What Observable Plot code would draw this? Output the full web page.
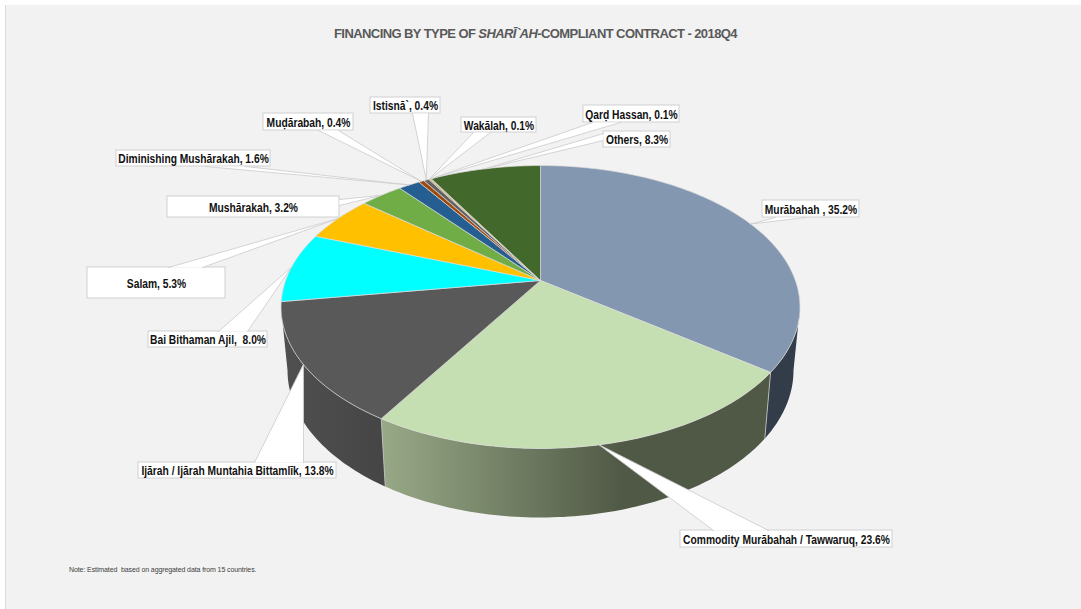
<!DOCTYPE html>
<html>
<head>
<meta charset="utf-8">
<script src="https://cdn.jsdelivr.net/npm/d3@7"></script>
<script src="https://cdn.jsdelivr.net/npm/@observablehq/plot@0.6"></script>
<style>
  html, body { margin: 0; padding: 0; background: #fff; width: 1081px; height: 609px; overflow: hidden; }
  #panel { position: absolute; left: 5px; top: 5px; width: 1076px; height: 604px; background: #f2f2f2;
           border-left: 1px solid #dcdcdc; box-sizing: border-box; overflow: hidden; font-family: "Liberation Sans", Arial, sans-serif; }
  #title { height: 45px; box-sizing: border-box; padding-top: 21px; padding-left: 328px; white-space: nowrap;
           font-size: 13px; font-weight: bold; color: #595959; letter-spacing: -0.58px; line-height: 15px; }
  #chart svg { display: block; background: transparent; }
  #note { position: absolute; left: 63px; top: 561px; font-size: 7px; color: #404040; white-space: nowrap; letter-spacing: -0.1px; }
</style>
</head>
<body>
<div id="panel">
  <div id="title">FINANCING BY TYPE OF <i>SHARĪ`AH</i>-COMPLIANT CONTRACT - 2018Q4</div>
  <div id="chart"></div>
  <div id="note">Note: Estimated&nbsp; based on aggregated data from 15 countries.</div>
</div>
<script>
// Financing shares by contract type, percent, clockwise from twelve o'clock.
const contracts = ["Murābahah ", "Commodity Murābahah / Tawwaruq", "Ijārah / Ijārah Muntahia Bittamlīk",
  "Bai Bithaman Ajil, ", "Salam", "Mushārakah", "Diminishing Mushārakah", "Muḍārabah", "Istisnā`",
  "Wakālah", "Qarḍ Hassan", "Others"];
const shares = [35.2, 23.6, 13.8, 8.0, 5.3, 3.2, 1.6, 0.4, 0.4, 0.1, 0.1, 8.3];
const topColors = ["#8497b0", "#c5deb2", "#595959", "#00ffff", "#ffc000", "#70ad47", "#255e91",
  "#9e480e", "#636363", "#997300", "#c9b27c", "#43682b"];

// Side walls that face the viewer, by contract index.
const wallFills = new Map([[0, "#333c49"], [1, "url(#commodityWall)"], [2, "url(#ijarahWall)"]]);

// Callout boxes and the two feet of each pointer, in chart units.
const boxes = [
  {x1: 762, x2: 859, y1: 200, y2: 217, feet: [[775, 217], [805, 217]]},
  {x1: 680, x2: 892, y1: 530, y2: 547, feet: [[713, 530], [768, 530]]},
  {x1: 138, x2: 336, y1: 462, y2: 478, feet: [[254, 462], [303, 462]]},
  {x1: 148, x2: 267, y1: 331, y2: 347, feet: [[218, 331], [247, 331]]},
  {x1: 87, x2: 225, y1: 267, y2: 298, feet: [[168, 267], [202, 267]]},
  {x1: 167, x2: 339, y1: 196, y2: 217, feet: [[339, 199], [339, 205]]},
  {x1: 116, x2: 270, y1: 150, y2: 166, feet: [[205, 166], [245, 166]]},
  {x1: 263, x2: 353, y1: 113, y2: 130, feet: [[318, 130], [338, 130]]},
  {x1: 370, x2: 440, y1: 97, y2: 113, feet: [[412, 113], [428, 113]]},
  {x1: 461, x2: 536, y1: 117, y2: 132, feet: [[473, 132], [490, 132]]},
  {x1: 583, x2: 679, y1: 105, y2: 122, feet: [[592, 122], [620, 122]]},
  {x1: 603, x2: 670, y1: 131, y2: 147, feet: [[603, 133], [603, 140]]}
];

// Perspective disc: the lid and the base are the same circle seen through one camera.
const lid = {cy: 280, a: 254.9, b: 136.5};
const base = {cy: 342.5, a: 248.5, b: 141.8};
const centerX = 540, foreshortening = 0.1873;
// Turn at which the wall silhouette meets each side of the disc.
const silhouette = [Math.acos(-foreshortening), 2 * Math.PI - Math.acos(-foreshortening)];

const project = (angle, level, r = 1) => {
  const w = 1 + foreshortening * r * Math.cos(angle);
  return {
    x: centerX + level.a * r * Math.sin(angle) / w,
    y: level.cy - level.b * r * Math.cos(angle) / w
  };
};

const arc = (from, to, level) => {
  const steps = Math.max(2, Math.ceil((to - from) / (Math.PI / 180)));
  return d3.range(steps + 1).map(i => project(from + (to - from) * i / steps, level));
};

// Accumulate the shares into start and end angles.
const total = d3.sum(shares);
let running = 0;
const slices = contracts.map((name, i) => {
  const start = running / total * 2 * Math.PI;
  running += shares[i];
  return {name, share: shares[i], index: i, start, end: running / total * 2 * Math.PI, fill: topColors[i]};
});

const lidOutlines = slices.flatMap(s => {
  const ring = [project(0, lid, 0), ...arc(s.start, s.end, lid), project(0, lid, 0)];
  return ring.map(p => ({...p, key: s.name, fill: s.fill}));
});

const wallOutlines = slices.filter(s => wallFills.has(s.index)).flatMap(s => {
  const from = Math.max(s.start, silhouette[0]), to = Math.min(s.end, silhouette[1]);
  const ring = [...arc(from, to, lid), ...arc(from, to, base).reverse()];
  return ring.map(p => ({...p, key: s.name, fill: wallFills.get(s.index)}));
});

const wallEdges = [slices[0].end, slices[1].end].map(angle => {
  const a = project(angle, lid), b = project(angle, base);
  return {x1: a.x, y1: a.y, x2: b.x, y2: b.y};
});

const pointers = slices.flatMap(s => {
  const tip = project((s.start + s.end) / 2, lid);
  const [f1, f2] = boxes[s.index].feet;
  return [{x: f1[0], y: f1[1]}, tip, {x: f2[0], y: f2[1]}].map(p => ({...p, key: s.name}));
});

const labels = slices.map(s => {
  const box = boxes[s.index];
  return {
    x: (box.x1 + box.x2) / 2,
    y: (box.y1 + box.y2) / 2,
    text: `${s.name}, ${s.share.toFixed(1)}%`.replace(", , ", ",  ")
  };
});

// Horizontal shading on the two lit walls.
const wallGradients = () => {
  const defs = d3.create("svg:defs");
  const add = (id, stops) => {
    const g = defs.append("linearGradient").attr("id", id).attr("x1", 0).attr("x2", 1).attr("y1", 0).attr("y2", 0);
    stops.forEach(([offset, color]) => g.append("stop").attr("offset", offset).attr("stop-color", color));
  };
  add("commodityWall", [[0, "#98a987"], [0.62, "#505945"], [1, "#505945"]]);
  add("ijarahWall", [[0, "#505050"], [1, "#454545"]]);
  return defs.node();
};

const plot = Plot.plot({
  width: 1075,
  height: 505,
  margin: 0,
  x: {domain: [6, 1081], range: [0, 1075], axis: null},
  y: {domain: [50, 555], range: [0, 505], axis: null},
  color: {type: "identity"},
  marks: [
    wallGradients,
    Plot.line(wallOutlines, {x: "x", y: "y", z: "key", fill: "fill", stroke: "none", curve: "linear"}),
    Plot.link(wallEdges, {x1: "x1", y1: "y1", x2: "x2", y2: "y2", stroke: "#c8c8c8", strokeWidth: 0.8}),
    Plot.line(lidOutlines, {x: "x", y: "y", z: "key", fill: "fill", stroke: "#dcdcdc", strokeWidth: 0.7, curve: "linear"}),
    Plot.rect(boxes, {x1: "x1", x2: "x2", y1: "y1", y2: "y2", fill: "#fff", stroke: "#d0d0d0", strokeWidth: 1}),
    Plot.line(pointers, {x: "x", y: "y", z: "key", fill: "#fff", stroke: "#cfcfcf", strokeWidth: 0.9, curve: "linear"}),
    Plot.text(labels, {x: "x", y: "y", dy: 0.7, text: "text", fill: "#111", fontSize: 12, fontWeight: "bold",
      fontFamily: "Liberation Sans", textAnchor: "middle", lineAnchor: "middle"})
  ]
});
document.getElementById("chart").append(plot);

// The callout type is a condensed bold: squeeze the glyphs horizontally once laid out.
plot.querySelectorAll("text").forEach(t => {
  t.setAttribute("textLength", (t.getComputedTextLength() * 0.855).toFixed(1));
  t.setAttribute("lengthAdjust", "spacingAndGlyphs");
});
</script>
</body>
</html>
